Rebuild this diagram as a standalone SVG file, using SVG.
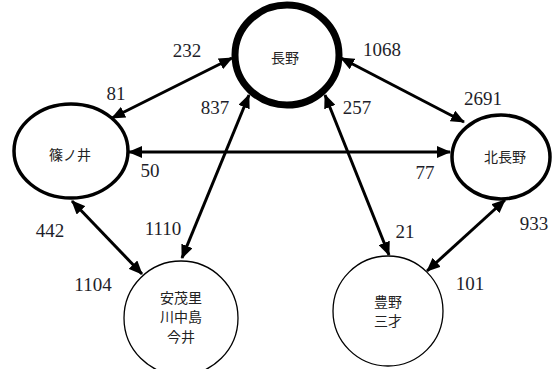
<svg xmlns="http://www.w3.org/2000/svg" width="554" height="369" viewBox="0 0 554 369">
<style>
.bg{fill:#ffffff}
.thick{fill:#ffffff;stroke:#000;stroke-width:7}
.mid{fill:#ffffff;stroke:#000;stroke-width:3.5}
.thin{fill:#ffffff;stroke:#000;stroke-width:1.3}
.edge{stroke:#000;stroke-width:3;fill:none;marker-start:url(#ah);marker-end:url(#ah)}
.lbl{font-family:"Liberation Serif","Times New Roman",serif;font-size:19px;fill:#1e1e2a;text-anchor:middle}
.nt{font-family:"Noto Sans CJK JP","Noto Sans CJK SC",sans-serif;font-size:14px;fill:#222;text-anchor:middle}
</style>
<defs>
<marker id="ah" markerUnits="userSpaceOnUse" markerWidth="14" markerHeight="12" viewBox="0 0 14 12" refX="13" refY="6" orient="auto-start-reverse">
<path d="M0,0 L14,6 L0,12 Z" fill="#000"/>
</marker>
</defs>
<rect class="bg" x="0" y="0" width="554" height="369"/>
<g id="connectors">
<line class="edge" x1="112" y1="118" x2="232" y2="58"/>
<line class="edge" x1="341" y1="58" x2="464" y2="122"/>
<line class="edge" x1="129" y1="152" x2="450" y2="152"/>
<line class="edge" x1="249" y1="95" x2="182" y2="258"/>
<line class="edge" x1="325" y1="95" x2="389" y2="255"/>
<line class="edge" x1="72" y1="201" x2="142" y2="274"/>
<line class="edge" x1="505" y1="200" x2="427" y2="271"/>
</g>
<g id="node-nagano">
<ellipse class="thick" cx="287" cy="55" rx="52" ry="50"/>
<text class="nt" x="285" y="63">長野</text>
</g>
<g id="node-shinonoi">
<ellipse class="mid" cx="71" cy="151" rx="57" ry="47"/>
<text class="nt" x="70" y="160">篠ノ井</text>
</g>
<g id="node-kitanagano">
<ellipse class="mid" cx="501" cy="157" rx="49" ry="42"/>
<text class="nt" x="505" y="162">北長野</text>
</g>
<g id="node-amori">
<circle class="thin" cx="181" cy="318" r="57"/>
<text class="nt" x="181" y="303">安茂里</text>
<text class="nt" x="181" y="322">川中島</text>
<text class="nt" x="181" y="342">今井</text>
</g>
<g id="node-toyono">
<circle class="thin" cx="388" cy="311" r="55"/>
<text class="nt" x="388" y="307">豊野</text>
<text class="nt" x="388" y="326">三才</text>
</g>
<g id="labels">
<text class="lbl" x="187" y="57">232</text>
<text class="lbl" x="116" y="100">81</text>
<text class="lbl" x="215" y="114">837</text>
<text class="lbl" x="150" y="177">50</text>
<text class="lbl" x="382" y="56">1068</text>
<text class="lbl" x="483" y="105">2691</text>
<text class="lbl" x="357" y="114">257</text>
<text class="lbl" x="425" y="179">77</text>
<text class="lbl" x="50" y="237">442</text>
<text class="lbl" x="163" y="235">1110</text>
<text class="lbl" x="93" y="291">1104</text>
<text class="lbl" x="405" y="238">21</text>
<text class="lbl" x="534" y="230">933</text>
<text class="lbl" x="470" y="290">101</text>
</g>
</svg>
